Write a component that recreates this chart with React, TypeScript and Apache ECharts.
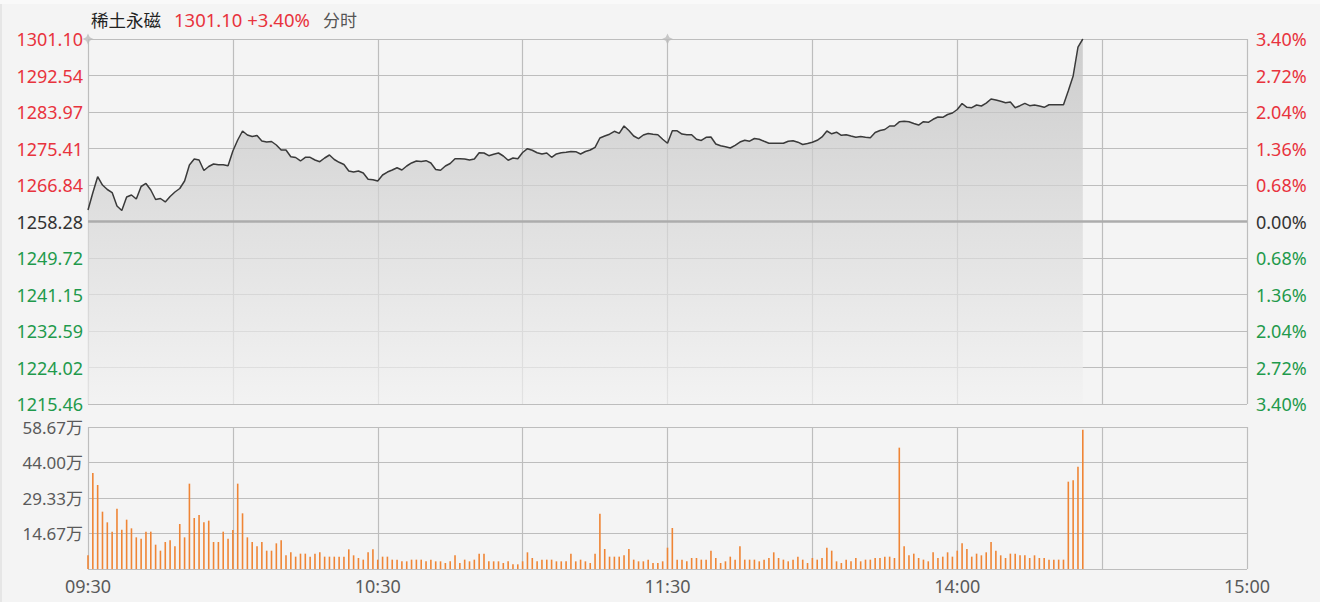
import React, { useEffect, useRef } from "react";
import * as echarts from "echarts";

// ---- data ----
const stockName = "稀土永磁";
const lastPriceText = "1301.10";
const lastPctText = "+3.40%";
const modeText = "分时";

const priceMin = 1215.46;
const priceMax = 1301.1;
const preClose = 1258.28;

const priceTickLabels = ["1215.46", "1224.02", "1232.59", "1241.15", "1249.72", "1258.28", "1266.84", "1275.41", "1283.97", "1292.54", "1301.10"];
const pctTickLabels = ["3.40%", "2.72%", "2.04%", "1.36%", "0.68%", "0.00%", "0.68%", "1.36%", "2.04%", "2.72%", "3.40%"];
const volTickLabels = ["", "14.67万", "29.33万", "44.00万", "58.67万"];
const volMax = 58.67;
const timeTickLabels: Record<number, string> = { 0: "09:30", 60: "10:30", 120: "11:30", 180: "14:00", 240: "15:00" };

// price per minute from 09:30
const prices = [
  1260.98, 1265.04, 1268.79, 1266.84, 1265.79, 1265.08, 1261.92, 1260.86, 1264.03, 1264.5,
  1263.56, 1266.49, 1267.2, 1265.67, 1263.44, 1263.68, 1262.86, 1264.15, 1265.2, 1266.02,
  1267.78, 1271.54, 1272.94, 1272.71, 1270.25, 1271.18, 1271.77, 1271.61, 1271.61, 1271.37,
  1274.82, 1277.4, 1279.51, 1278.58, 1278.22, 1278.46, 1277.17, 1276.93, 1277.05, 1276.23,
  1275.06, 1275.06, 1273.48, 1273.3, 1272.48, 1273.34, 1273.34, 1272.71, 1272.31, 1273.18,
  1273.88, 1272.83, 1272.17, 1271.65, 1270.13, 1269.89, 1270.13, 1269.66, 1268.18, 1268.09,
  1267.78, 1269.19, 1269.89, 1270.36, 1270.9, 1270.36, 1271.3, 1272.01, 1272.48, 1272.36,
  1272.55, 1272.01, 1270.48, 1270.29, 1271.3, 1271.89, 1273.01, 1273.01, 1272.94, 1272.71,
  1272.94, 1274.42, 1274.35, 1273.72, 1274.05, 1274.35, 1273.65, 1272.64, 1273.18, 1273.01,
  1274.47, 1275.36, 1274.99, 1274.42, 1274.12, 1274.35, 1273.34, 1274.12, 1274.4, 1274.52,
  1274.73, 1274.66, 1274.12, 1274.7, 1275.06, 1275.69, 1277.87, 1278.34, 1278.76, 1279.44,
  1278.97, 1280.69, 1279.63, 1278.34, 1277.71, 1278.58, 1278.93, 1278.74, 1278.65, 1277.57,
  1276.63, 1279.58, 1279.56, 1278.81, 1278.65, 1278.62, 1277.57, 1277.29, 1278.04, 1278.11,
  1276.46, 1276.04, 1275.83, 1275.53, 1276.16, 1276.93, 1277.36, 1277.12, 1277.75, 1277.57,
  1277.1, 1276.65, 1276.63, 1276.63, 1276.63, 1277.12, 1277.24, 1276.89, 1276.35, 1276.58,
  1276.89, 1277.33, 1278.11, 1279.51, 1278.86, 1279.23, 1278.5, 1278.65, 1278.34, 1278.06,
  1278.22, 1278.06, 1277.94, 1279.16, 1279.63, 1279.87, 1280.69, 1280.69, 1281.67, 1281.79,
  1281.67, 1281.27, 1280.92, 1281.7, 1281.56, 1282.26, 1282.8, 1282.73, 1283.39, 1283.74,
  1284.56, 1285.97, 1285.07, 1284.98, 1285.61, 1285.38, 1286.04, 1287.02, 1286.79, 1286.48,
  1286.15, 1286.32, 1284.98, 1285.45, 1286.01, 1285.45, 1285.61, 1285.38, 1285.07, 1285.68,
  1285.68, 1285.68, 1285.68, 1288.97, 1292.42, 1299.22, 1301.1,
];

// volume per minute, in 万
const volumes = [
  5.65, 39.66, 34.7, 23.69, 19.28, 15.42, 24.93, 16.25, 20.38, 16.8,
  13.08, 12.53, 15.42, 15.42, 10.05, 7.57, 11.15, 11.84, 9.36, 18.59,
  13.08, 35.26, 21.07, 22.31, 19.28, 19.97, 11.15, 11.15, 15.42, 12.53,
  16.11, 35.26, 23.0, 13.08, 11.15, 9.36, 11.15, 7.57, 7.57, 10.6,
  11.84, 5.65, 6.89, 5.1, 6.34, 6.34, 5.1, 6.34, 6.89, 5.1,
  5.1, 5.1, 5.1, 5.1, 8.13, 5.65, 4.54, 3.86, 6.89, 8.13,
  3.86, 5.1, 5.1, 3.86, 3.86, 3.17, 3.17, 3.86, 3.86, 3.86,
  3.17, 3.86, 3.17, 3.17, 2.48, 3.17, 5.65, 2.48, 3.86, 3.17,
  3.86, 6.34, 6.34, 3.17, 3.17, 3.17, 2.48, 3.17, 1.93, 1.93,
  3.17, 6.89, 4.54, 3.17, 3.86, 3.86, 3.86, 3.17, 3.17, 3.17,
  6.34, 3.17, 3.86, 3.17, 2.48, 6.34, 22.86, 8.26, 5.1, 5.1,
  5.1, 5.65, 8.26, 3.86, 3.17, 3.17, 3.86, 2.48, 2.48, 3.17,
  8.81, 16.94, 3.86, 3.86, 3.17, 4.54, 4.54, 3.86, 3.86, 7.57,
  4.54, 2.48, 3.17, 5.1, 3.86, 9.36, 3.86, 3.86, 3.86, 3.17,
  3.86, 4.54, 6.89, 4.54, 3.86, 3.17, 3.86, 5.1, 3.86, 2.48,
  4.54, 3.86, 4.54, 8.81, 7.57, 3.17, 2.48, 3.86, 3.17, 4.54,
  3.17, 3.86, 3.86, 4.54, 4.54, 5.1, 5.1, 4.54, 50.13, 9.36,
  5.65, 6.34, 4.54, 3.86, 3.17, 6.89, 4.54, 5.1, 6.89, 5.1,
  7.57, 10.6, 8.26, 5.1, 6.34, 5.65, 6.89, 11.15, 7.57, 5.65,
  4.54, 6.34, 6.34, 5.65, 5.65, 4.54, 5.65, 4.54, 4.54, 3.86,
  3.86, 3.86, 3.86, 36.08, 36.63, 42.28, 57.57,
];

// session markers (09:30 and 11:30/13:00)
const sessionMarkIdx = [0, 120];

// ---- helpers ----
const pad2 = (n: number) => (n < 10 ? "0" + n : "" + n);
const timeCategories: string[] = [];
for (let i = 0; i <= 240; i++) {
  const mins = i <= 120 ? 9 * 60 + 30 + i : 13 * 60 + (i - 120);
  timeCategories.push(pad2(Math.floor(mins / 60)) + ":" + pad2(mins % 60));
}
const priceStep = (priceMax - priceMin) / 10;
const toUnit = (p: number) => (p - priceMin) / priceStep;

const RED = "#e8333d";
const GREEN = "#1f9a4c";
const DARK = "#333333";
const GRAY = "#5a5a5a";
const GRID = "#bdbdbd";
const FONT = '"Noto Sans", "Noto Sans CJK SC", sans-serif';
const CJK = '"Noto Sans CJK SC", sans-serif';

const levelColor = (v: number) => {
  const i = Math.round(v);
  return i > 5 ? RED : i < 5 ? GREEN : DARK;
};

export default function App() {
  const ref = useRef<HTMLDivElement>(null);
  useEffect(() => {
    if (!ref.current) return;
    const chart = echarts.init(ref.current, undefined, { renderer: "svg" });
    const gridLeft = 88;
    const gridRight = 73;
    const volStep = volMax / 4;
    const gridLine = { color: GRID, width: 1.2 };
    const option: any = {
      animation: false,
      backgroundColor: "#f4f4f4",
      textStyle: { fontFamily: FONT },
      title: {
        left: 86,
        top: 5,
        text: `{a|${stockName}}{b|${lastPriceText} ${lastPctText}}{c|${modeText}}`,
        textStyle: {
          fontWeight: "normal",
          rich: {
            a: { fontSize: 17.5, fontWeight: "normal", color: "#222", fontFamily: CJK, padding: [0, 13, 0, 0] },
            b: { fontSize: 18.5, fontWeight: "normal", color: RED, fontFamily: FONT, padding: [0, 13, 0, 0] },
            c: { fontSize: 17, fontWeight: "normal", color: "#555", fontFamily: CJK },
          },
        },
      },
      graphic: [
        { type: "rect", left: 0, top: 0, shape: { width: 1320, height: 4 }, style: { fill: "#f9f9f9" }, silent: true },
        { type: "rect", left: 0, top: 4, shape: { width: 2, height: 598 }, style: { fill: "#e6e6e6" }, silent: true },
      ],
      grid: [
        { left: gridLeft, right: gridRight, top: 39, height: 365 },
        { left: gridLeft, right: gridRight, top: 427, height: 142 },
      ],
      xAxis: [
        {
          type: "category",
          gridIndex: 0,
          data: timeCategories,
          boundaryGap: false,
          axisLine: { show: false },
          axisTick: { show: false },
          axisLabel: { show: false },
          splitLine: { show: true, interval: (i: number) => i % 30 === 0, lineStyle: gridLine },
        },
        {
          type: "category",
          gridIndex: 1,
          data: timeCategories,
          boundaryGap: false,
          axisLine: { show: false },
          axisTick: { show: false },
          axisLabel: {
            show: true,
            interval: (i: number) => timeTickLabels[i] !== undefined,
            formatter: (_v: string, i: number) => timeTickLabels[i] || "",
            color: GRAY,
            fontSize: 18,
            margin: 8,
            fontFamily: FONT,
          },
          splitLine: { show: true, interval: (i: number) => i % 30 === 0, lineStyle: gridLine },
        },
      ],
      yAxis: [
        {
          type: "value",
          gridIndex: 0,
          min: 0,
          max: 10,
          interval: 1,
          axisLine: { show: false },
          axisTick: { show: false },
          splitLine: { show: true, lineStyle: gridLine },
          axisLabel: {
            formatter: (v: number) => priceTickLabels[Math.round(v)] || "",
            color: (v: number) => levelColor(v),
            fontSize: 18,
            margin: 5,
            fontFamily: FONT,
          },
        },
        {
          type: "value",
          gridIndex: 0,
          position: "right",
          min: 0,
          max: 10,
          interval: 1,
          axisLine: { show: false },
          axisTick: { show: false },
          splitLine: { show: false },
          axisLabel: {
            formatter: (v: number) => pctTickLabels[Math.round(v)] || "",
            color: (v: number) => levelColor(v),
            fontSize: 18,
            margin: 9,
            fontFamily: FONT,
          },
        },
        {
          type: "value",
          gridIndex: 1,
          min: 0,
          max: volMax,
          interval: volStep,
          axisLine: { show: false },
          axisTick: { show: false },
          splitLine: { show: true, lineStyle: gridLine },
          axisLabel: {
            formatter: (v: number) => volTickLabels[Math.round(v / volStep)] || "",
            color: GRAY,
            fontSize: 17,
            margin: 5,
            fontFamily: FONT,
          },
        },
      ],
      series: [
        {
          type: "line",
          xAxisIndex: 0,
          yAxisIndex: 0,
          data: prices.map(toUnit),
          showSymbol: false,
          symbol: "none",
          lineStyle: { color: "#3a3a3a", width: 1.5 },
          areaStyle: {
            origin: "start",
            color: new echarts.graphic.LinearGradient(0, 0, 0, 1, [
              { offset: 0, color: "#bdbdbd" },
              { offset: 1, color: "#f2f2f2" },
            ]),
          },
          markLine: {
            silent: true,
            symbol: ["none", "none"],
            label: { show: false },
            lineStyle: { color: "#acacac", width: 2.5, type: "solid" },
            data: [{ yAxis: toUnit(preClose) }],
          },
          z: 3,
        },
        {
          type: "scatter",
          xAxisIndex: 0,
          yAxisIndex: 0,
          data: sessionMarkIdx.map((i) => [i, 10]),
          symbol: "path://M0,-5 L1.6,-1.6 L5,0 L1.6,1.6 L0,5 L-1.6,1.6 L-5,0 L-1.6,-1.6 Z",
          symbolSize: 11,
          itemStyle: { color: "#bcbcbc" },
          silent: true,
          z: 4,
        },
        {
          type: "bar",
          xAxisIndex: 1,
          yAxisIndex: 2,
          data: volumes,
          barWidth: 1.6,
          itemStyle: { color: "#ef8535" },
        },
      ],
    };
    chart.setOption(option);
    return () => chart.dispose();
  }, []);
  return (
    <div
      ref={ref}
      style={{ position: "absolute", left: 0, top: 0, width: 1320, height: 602, background: "#f4f4f4" }}
    />
  );
}
